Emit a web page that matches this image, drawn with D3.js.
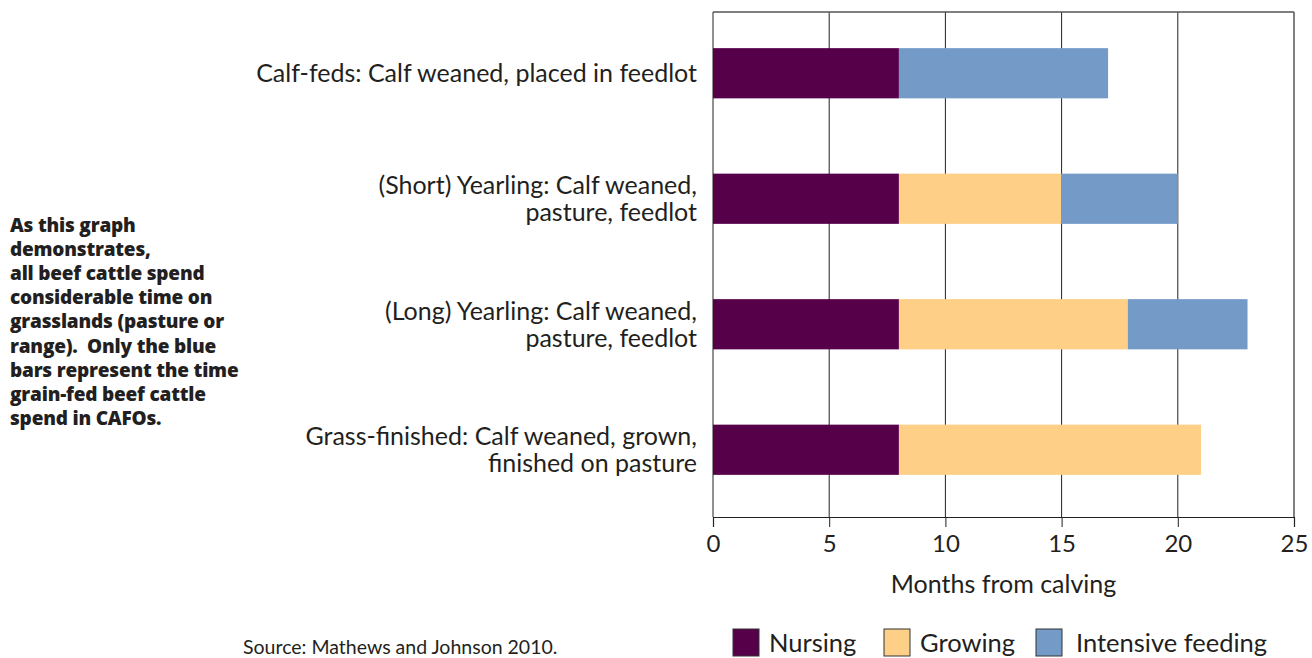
<!DOCTYPE html>
<html>
<head>
<meta charset="utf-8">
<script src="https://cdn.jsdelivr.net/npm/d3@7"></script>
<style>
  body { margin: 0; background: #fff; }
  svg { display: block; font-family: Lato, "Open Sans", sans-serif; }
</style>
</head>
<body>
<svg id="chart" width="1312" height="658"></svg>
<script>
// categories, two lines each
const categories = [
    ["Calf-feds: Calf weaned, placed in feedlot"],
    ["(Short) Yearling: Calf weaned,", "pasture, feedlot"],
    ["(Long) Yearling: Calf weaned,", "pasture, feedlot"],
    ["Grass-finished: Calf weaned, grown,", "finished on pasture"]
];
const seriesNames = ["Nursing", "Growing", "Intensive feeding"];
const nursing = [8, 8, 8, 8];
const growing = [0, 7, 9.85, 13];
const intensive = [9, 5, 5.15, 0];
const xTicks = [0, 5, 10, 15, 20, 25];
const colors = ["#57004a", "#fecf87", "#749bc7"];

const note = [
    "As this graph",
    "demonstrates,",
    "all beef cattle spend",
    "considerable time on",
    "grasslands (pasture or",
    "range).  Only the blue",
    "bars represent the time",
    "grain-fed beef cattle",
    "spend in CAFOs."
];

let svg = d3.select("#chart");

let x = d3.scaleLinear().domain([0, 25]).range([713, 1294]);
let y = d3.scaleBand().domain(d3.range(categories.length)).range([10.5, 512.5])
    .paddingInner(0.6).paddingOuter(0.3);
let plotTop = 12, plotBottom = 517;

let rows = categories.map((c, i) => ({ i: i, vals: [nursing[i], growing[i], intensive[i]] }));
let stack = d3.stack().keys([0, 1, 2]).value((d, k) => d.vals[k])(rows);

// grid lines
svg.append("g")
    .selectAll("line")
    .data(xTicks)
    .enter()
    .append("line")
    .attr("x1", d => x(d)).attr("x2", d => x(d))
    .attr("y1", plotTop).attr("y2", plotBottom)
    .attr("stroke", d => d == 25 ? "#555" : "#222")
    .attr("stroke-width", d => d == 25 ? 1.5 : 1);

svg.append("line")
    .attr("x1", x(0)).attr("x2", x(25))
    .attr("y1", plotTop).attr("y2", plotTop)
    .attr("stroke", "#555").attr("stroke-width", 1.5);

// bars
svg.append("g")
    .selectAll("g")
    .data(stack)
    .enter()
    .append("g")
    .attr("fill", (d, k) => colors[k])
    .selectAll("rect")
    .data(d => d.filter(s => s[1] > s[0]))
    .enter()
    .append("rect")
    .attr("x", d => x(d[0]))
    .attr("width", d => x(d[1]) - x(d[0]))
    .attr("y", d => y(d.data.i))
    .attr("height", y.bandwidth());

// x axis
let xAxis = svg.append("g")
    .attr("transform", "translate(0," + plotBottom + ")")
    .call(d3.axisBottom(x).tickValues(xTicks).tickSize(10).tickPadding(8));
xAxis.select(".domain").attr("stroke", "#222").attr("stroke-width", 1.2);
xAxis.selectAll(".tick line").attr("stroke", "#222");
xAxis.selectAll(".tick text")
    .attr("font-size", 24).attr("fill", "#231f20")
    .attr("font-family", "Lato, sans-serif");

svg.append("text")
    .attr("x", x(12.5)).attr("y", 593)
    .attr("text-anchor", "middle")
    .attr("font-size", 25).attr("fill", "#231f20")
    .text("Months from calving");

// category labels
svg.append("g")
    .selectAll("text")
    .data(categories)
    .enter()
    .append("text")
    .attr("text-anchor", "end")
    .attr("font-size", 25).attr("fill", "#231f20")
    .each(function(lines, i) {
        let cy = y(i) + y.bandwidth() / 2;
        let start = cy - (lines.length - 1) * 13.5 + 9;
        d3.select(this).selectAll("tspan")
            .data(lines)
            .enter()
            .append("tspan")
            .attr("x", 697)
            .attr("y", (d, j) => start + j * 27)
            .text(d => d);
    });

// side note
svg.append("g")
    .selectAll("text")
    .data(note)
    .enter()
    .append("text")
    .attr("x", 10)
    .attr("y", (d, i) => 232 + i * 24.1)
    .attr("font-size", 19).attr("font-weight", 800)
    .attr("font-family", "'Open Sans', sans-serif")
    .attr("fill", "#231f20")
    .attr("letter-spacing", -0.2)
    .style("white-space", "pre")
    .text(d => d);

svg.append("text")
    .attr("x", 243).attr("y", 654)
    .attr("font-size", 19.5).attr("fill", "#231f20")
    .text("Source: Mathews and Johnson 2010.");

// legend
let legendX = [733, 884, 1036];
let legend = svg.append("g")
    .selectAll("g")
    .data(seriesNames)
    .enter()
    .append("g")
    .attr("transform", (d, i) => "translate(" + legendX[i] + ",629)");
legend.append("rect")
    .attr("width", 26).attr("height", 27)
    .attr("fill", (d, i) => colors[i])
    .attr("stroke", "#333").attr("stroke-width", 1);
legend.append("text")
    .attr("x", (d, i) => i == 2 ? 40 : 36).attr("y", 23)
    .attr("font-size", 25.5).attr("fill", "#231f20")
    .text(d => d);
</script>
</body>
</html>
